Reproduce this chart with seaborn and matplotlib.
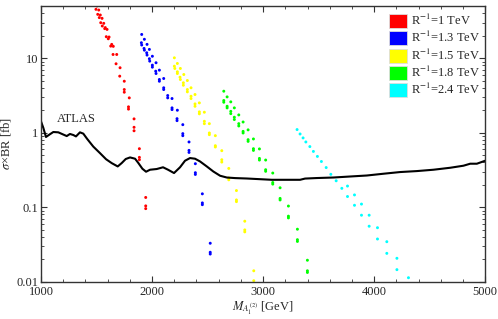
import pandas as pd
import numpy as np
import matplotlib
matplotlib.use("Agg")
import matplotlib.pyplot as plt
from matplotlib.patches import Patch
from matplotlib.ticker import FixedLocator, LogLocator, NullFormatter
import seaborn as sns

# ------------------------------------------------------------
# DATA
# ------------------------------------------------------------
labels = ["R$^{-1}$=1 TeV", "R$^{-1}$=1.3 TeV", "R$^{-1}$=1.5 TeV",
          "R$^{-1}$=1.8 TeV", "R$^{-1}$=2.4 TeV"]
colors = ["#ff0000", "#0000ff", "#ffff00", "#00ff00", "#00ffff"]

red_mass = [1480, 1504, 1495, 1520, 1511, 1534, 1525, 1550, 1538, 1565,
            1552, 1579, 1574, 1595, 1588, 1613, 1606, 1637, 1628, 1651,
            1649, 1682, 1676, 1712, 1709, 1750, 1750, 1750, 1795, 1788,
            1788, 1838, 1838, 1838, 1886, 1886, 1886, 1943, 1943, 1943]
red_xsec = [51.2, 50.1, 45.2, 44.2, 38.7, 37.9, 35.0, 34.2, 29.9, 29.3,
            27.0, 25.7, 24.9, 24.3, 19.4, 19.2, 18.2, 15.3, 14.5, 14.4,
            11.2, 11.2, 8.4, 7.43, 5.73, 4.90, 3.79, 3.49, 2.93, 2.22,
            2.07, 1.53, 1.18, 1.06, 0.609, 0.466, 0.433, 0.135, 0.104, 0.0956]

blue_mass = [1907, 1931, 1904, 1907, 1955, 1928, 1931, 1976, 1952, 1955,
             2003, 1976, 1979, 2036, 2003, 2003, 2066, 2033, 2036, 2105,
             2066, 2066, 2105, 2105, 2141, 2180, 2141, 2180, 2180, 2228,
             2225, 2225, 2277, 2277, 2277, 2333, 2333, 2333, 2390, 2390,
             2390, 2453, 2453, 2453, 2524, 2524, 2524]
blue_xsec = [20.8, 17.9, 16.1, 15.0, 15.3, 13.5, 12.8, 13.1, 11.8, 11.0,
             10.6, 9.82, 9.12, 8.67, 8.05, 7.57, 6.90, 6.68, 6.22, 5.33,
             5.17, 4.90, 4.0, 3.79, 3.15, 2.87, 2.93, 2.15, 2.04, 2.0,
             1.54, 1.45, 1.28, 0.97, 0.911, 0.75, 0.578, 0.543, 0.383, 0.290,
             0.275, 0.151, 0.114, 0.108, 0.0328, 0.0248, 0.0235]

yellow_mass = [2201, 2228, 2201, 2205, 2255, 2228, 2228, 2286, 2252, 2255,
               2318, 2282, 2282, 2351, 2318, 2318, 2387, 2351, 2351, 2426,
               2387, 2387, 2471, 2426, 2426, 2516, 2471, 2471, 2570, 2516,
               2516, 2570, 2570, 2628, 2628, 2628, 2691, 2691, 2691, 2760,
               2760, 2760, 2835, 2835, 2835, 2916, 2916]
yellow_xsec = [10.1, 8.48, 7.80, 7.27, 7.27, 6.56, 6.22, 6.03, 5.55, 5.17,
               5.01, 4.67, 4.33, 4.0, 3.79, 3.53, 3.25, 3.08, 2.87, 2.51,
               2.43, 2.26, 1.88, 1.90, 1.79, 1.32, 1.42, 1.32, 0.911, 0.99,
               0.94, 0.668, 0.642, 0.573, 0.433, 0.403, 0.331, 0.246, 0.233, 0.167,
               0.125, 0.1186, 0.0648, 0.0495, 0.0466, 0.0140, 0.0103]

green_mass = [2646, 2676, 2646, 2646, 2709, 2676, 2676, 2741, 2709, 2709,
              2781, 2741, 2741, 2820, 2781, 2781, 2865, 2820, 2820, 2913,
              2865, 2865, 2967, 2913, 2913, 3023, 2967, 2967, 3087, 3023,
              3023, 3153, 3087, 3087, 3228, 3153, 3153, 3309, 3228, 3228,
              3399, 3309, 3309, 3399, 3399]
green_xsec = [3.60, 3.02, 2.70, 2.56, 2.59, 2.26, 2.15, 2.15, 1.93, 1.80,
              1.73, 1.61, 1.50, 1.39, 1.32, 1.23, 1.09, 1.04, 0.99, 0.823,
              0.805, 0.764, 0.605, 0.609, 0.578, 0.429, 0.451, 0.429, 0.287, 0.318,
              0.303, 0.182, 0.214, 0.204, 0.1035, 0.131, 0.125, 0.0506, 0.0757, 0.0718,
              0.0194, 0.0366, 0.0347, 0.014, 0.0133]

cyan_mass = [3306, 3333, 3360, 3385, 3421, 3453, 3489, 3525, 3568, 3610,
             3658, 3709, 3760, 3760, 3823, 3823, 3886, 3886, 3955, 3955,
             4030, 4030, 4114, 4114, 4205, 4205, 4309]
cyan_xsec = [1.10, 0.96, 0.85, 0.75, 0.65, 0.56, 0.48, 0.41, 0.34, 0.276,
             0.226, 0.179, 0.192, 0.139, 0.146, 0.106, 0.110, 0.078, 0.078, 0.0555,
             0.053, 0.0374, 0.0344, 0.024, 0.0206, 0.0145, 0.0113]

# ATLAS observed limit
atlas_mass = [1000, 1021, 1045, 1075, 1111, 1156, 1196, 1232, 1261, 1291,
              1315, 1351, 1381, 1417, 1471, 1532, 1586, 1637, 1691, 1727,
              1763, 1802, 1847, 1877, 1913, 1946, 1982, 2042, 2099, 2144,
              2198, 2252, 2297, 2342, 2387, 2432, 2493, 2552, 2613, 2673,
              2748, 2853, 2958, 3078, 3198, 3333, 3378, 3484, 3633, 3784,
              3934, 4084, 4234, 4385, 4534, 4685, 4804, 4865, 4925, 5000]
atlas_xsec = [1.42, 1.16, 0.875, 0.94, 1.02, 1.01, 0.95, 0.90, 0.96, 0.93,
              0.89, 1.01, 0.97, 0.82, 0.65, 0.53, 0.44, 0.39, 0.352, 0.391,
              0.443, 0.465, 0.447, 0.391, 0.328, 0.299, 0.318, 0.325, 0.343, 0.318,
              0.287, 0.343, 0.42, 0.456, 0.447, 0.411, 0.352, 0.301, 0.264, 0.250,
              0.2456, 0.2425, 0.238, 0.233, 0.233, 0.233, 0.242, 0.246, 0.250, 0.258,
              0.266, 0.281, 0.296, 0.305, 0.318, 0.338, 0.36, 0.383, 0.383, 0.42]

x_ticks = [1000, 2000, 3000, 4000, 5000]
y_ticks = [0.01, 0.1, 1, 10]
y_tick_labels = ["0.01", "0.1", "1", "10"]

# ------------------------------------------------------------
# BUILD DATAFRAME
# ------------------------------------------------------------
masses = [red_mass, blue_mass, yellow_mass, green_mass, cyan_mass]
xsecs = [red_xsec, blue_xsec, yellow_xsec, green_xsec, cyan_xsec]
df = pd.concat(
    [pd.DataFrame({"mass": m, "xsec": s, "series": lab})
     for m, s, lab in zip(masses, xsecs, labels)],
    ignore_index=True,
)
atlas = pd.DataFrame({"mass": atlas_mass, "xsec": atlas_xsec})

# ------------------------------------------------------------
# PLOT
# ------------------------------------------------------------
sns.set_style("ticks")
plt.rcParams["font.family"] = ["Liberation Serif", "DejaVu Serif"]
plt.rcParams["mathtext.fontset"] = "stix"

fig = plt.figure(figsize=(4.98, 3.19), dpi=100)
ax = fig.add_axes([0.0823, 0.117, 0.892, 0.864])

sns.lineplot(data=atlas, x="mass", y="xsec", color="black", lw=1.5,
             estimator=None, sort=False, ax=ax)
sns.scatterplot(data=df, x="mass", y="xsec", hue="series", hue_order=labels,
                palette=colors, marker="o", s=4.5, linewidth=0, legend=False, ax=ax)

ax.set_yscale("log")
ax.set_xlim(1000, 5000)
ax.set_ylim(0.01, 50)

ax.xaxis.set_major_locator(FixedLocator(x_ticks))
ax.xaxis.set_minor_locator(FixedLocator(np.arange(1000, 5001, 200)))
ax.set_xticklabels([str(t) for t in x_ticks])
ax.yaxis.set_major_locator(FixedLocator(y_ticks))
ax.yaxis.set_minor_locator(LogLocator(base=10, subs=np.arange(2, 10)))
ax.yaxis.set_minor_formatter(NullFormatter())
ax.set_yticklabels(y_tick_labels)

ax.tick_params(which="both", direction="in", top=True, right=True,
               labelsize=9, color="#333333", pad=2)
ax.tick_params(axis="x", pad=3)
ax.tick_params(which="major", length=4, width=0.8)
ax.tick_params(which="minor", length=2, width=0.6)
for sp in ax.spines.values():
    sp.set_color("#333333")
    sp.set_linewidth(1.0)

ax.set_xlabel(r"$M_{A_1^{(2)}}$ [GeV]", fontsize=9, labelpad=1)
ax.set_ylabel(r"$\sigma$×BR [fb]", fontsize=9, labelpad=2)

ax.text(1315, 1.52, "ATLAS", fontsize=9, ha="center", va="center")

handles = [Patch(facecolor=c, edgecolor="#dddddd", linewidth=0.6) for c in colors]
ax.legend(handles, labels, loc="upper left", bbox_to_anchor=(0.784, 0.975),
          frameon=False, fontsize=9, handlelength=1.38, handleheight=1.34,
          labelspacing=0.18, handletextpad=0.32, borderpad=0, borderaxespad=0)

plt.savefig("out.png", dpi=100)
plt.close()
